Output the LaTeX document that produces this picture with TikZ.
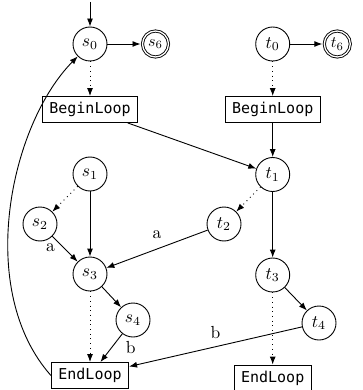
\documentclass[tikz,border=0pt]{standalone}
\usepackage{fontspec}
\usepackage{graphicx}
\setmonofont{DejaVu Sans Mono}
\usetikzlibrary{arrows.meta}
\newcommand{\stxt}[1]{\scalebox{1.75}{#1}}
\tikzset{
  state/.style={circle,draw,line width=0.9pt,minimum size=34pt,inner sep=0pt},
  accst/.style={circle,draw,line width=0.9pt,double,double distance=1.3pt,minimum size=26pt,inner sep=0pt,outer sep=2pt},
  loopbox/.style={rectangle,draw,line width=0.9pt,minimum height=26pt,inner xsep=7pt,inner ysep=0pt,font=\fontsize{15}{17}\selectfont\ttfamily},
  edge/.style={->,line width=0.9pt},
  dotedge/.style={->,line width=0.9pt,dash pattern=on 0.9pt off 3.8pt},
  lab/.style={inner sep=2pt}
}
\begin{document}
\begin{tikzpicture}[x=1pt,y=-1pt,>={Latex[length=8pt,width=6pt]}]
\useasboundingbox (0,0) rectangle (362,390);
\coordinate (init) at (90,2);
\node[state] (s0) at (90,44) {\stxt{$s_0$}};
\node[accst] (s6) at (155.5,44) {\scalebox{1.6}{$s_6$}};
\node[state] (t0) at (272.7,44) {\stxt{$t_0$}};
\node[accst] (t6) at (337.3,44) {\scalebox{1.6}{$t_6$}};
\node[loopbox] (BL1) at (90,109.5) {BeginLoop};
\node[loopbox] (BL2) at (272.7,109.5) {BeginLoop};
\node[state] (s1) at (90,174) {\stxt{$s_1$}};
\node[state] (t1) at (272.7,174.5) {\stxt{$t_1$}};
\node[state] (s2) at (40,224) {\stxt{$s_2$}};
\node[state] (t2) at (224,224) {\stxt{$t_2$}};
\node[state] (s3) at (90,274) {\stxt{$s_3$}};
\node[state] (t3) at (272.7,275) {\stxt{$t_3$}};
\node[state] (s4) at (133,320) {\stxt{$s_4$}};
\node[state] (t4) at (319,323) {\stxt{$t_4$}};
\node[loopbox] (EL1) at (90,375.5) {EndLoop};
\node[loopbox] (EL2) at (272.7,378) {EndLoop};

\draw[edge] (init) -- (s0);
\draw[edge] (s0) -- (s6);
\draw[dotedge] (s0) -- (BL1);
\draw[edge] (t0) -- (t6);
\draw[dotedge] (t0) -- (BL2);
\draw[edge] (BL1) -- (t1);
\draw[edge] (BL2) -- (t1);
\draw[dotedge] (s1) -- (s2);
\draw[edge] (s1) -- (s3);
\draw[edge] (s2) -- node[lab,pos=0.2,below left] (la1) {\stxt{a}} (s3);
\draw[dotedge] (t1) -- (t2);
\draw[edge] (t1) -- (t3);
\draw[edge] (t2) -- node[lab,above=8pt] (la2) {\stxt{a}} (s3);
\draw[edge] (s3) -- (s4);
\draw[dotedge] (s3) -- (EL1);
\draw[edge] (s4) -- node[lab,right=12pt] (lb1) {\stxt{b}} (EL1);
\draw[edge] (t3) -- (t4);
\draw[dotedge] (t3) -- (EL2);
\draw[edge] (t4) -- node[lab,above=6pt] (lb2) {\stxt{b}} (EL1);
\draw[edge] (EL1.west) .. controls (-25,290) and (10,125) .. (s0);
\end{tikzpicture}
\end{document}
